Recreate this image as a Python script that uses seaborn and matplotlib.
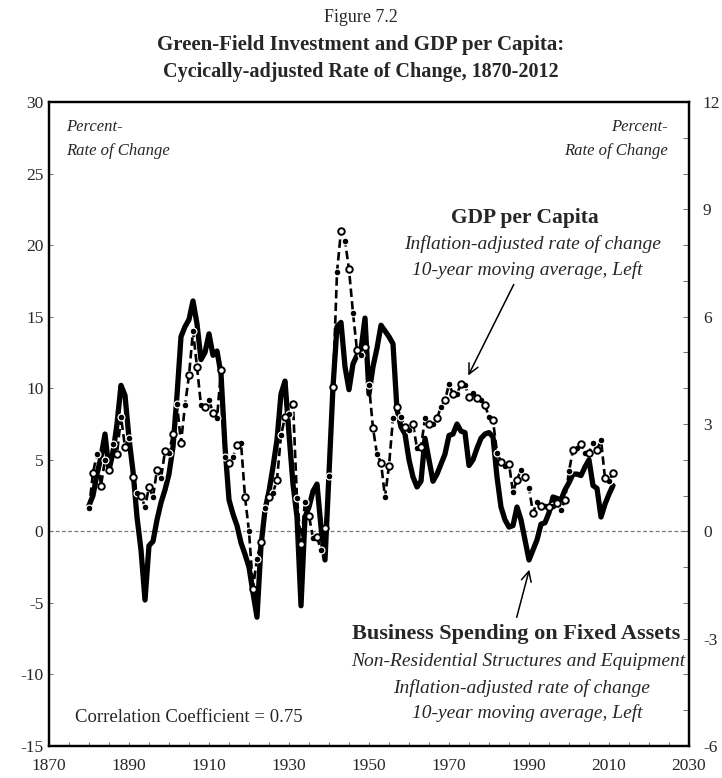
import numpy as np
import pandas as pd
import matplotlib
matplotlib.use("Agg")
import matplotlib.pyplot as plt
import seaborn as sns

# ---------------- data ----------------
years = list(range(1880, 2012))

business = [
    1.8, 2.5, 4.0, 5.2, 6.8, 4.3, 5.5, 7.5, 10.2, 9.5,            # 1880-1889
    6.5, 4.2, 1.0, -1.3, -4.8, -1.0, -0.7, 0.8, 2.0, 2.9,         # 1890-1899
    4.0, 5.9, 9.5, 13.6, 14.3, 14.8, 16.1, 14.5, 12.0, 12.5,      # 1900-1909
    13.8, 12.3, 12.6, 11.0, 5.9, 2.2, 1.2, 0.4, -0.8, -1.6,       # 1910-1919
    -2.5, -4.3, -6.0, -1.0, 1.5, 2.8, 4.5, 6.4, 9.6, 10.5,        # 1920-1929
    6.8, 3.3, 1.0, -5.2, 1.0, 1.7, 2.8, 3.3, 0.3, -2.0,           # 1930-1939
    4.0, 10.1, 14.3, 14.6, 11.5, 9.9, 11.7, 12.3, 12.7, 14.9,     # 1940-1949
    9.6, 11.5, 12.8, 14.4, 14.0, 13.6, 13.1, 8.5, 7.3, 6.8,       # 1950-1959
    5.0, 3.8, 3.1, 3.5, 6.5, 5.0, 3.5, 4.0, 4.7, 5.4,             # 1960-1969
    6.7, 6.8, 7.5, 7.0, 6.9, 4.6, 5.0, 5.8, 6.5, 6.8,             # 1970-1979
    6.9, 6.6, 3.8, 1.7, 0.8, 0.3, 0.4, 1.7, 0.8, -0.6,            # 1980-1989
    -2.0, -1.3, -0.6, 0.5, 0.6, 1.3, 2.4, 2.3, 2.2, 2.9,          # 1990-1999
    3.4, 4.0, 4.0, 3.9, 4.5, 5.0, 3.2, 3.0, 1.0, 1.9,             # 2000-2009
    2.6, 3.2,                                                      # 2010-2011
]

gdp = [
    1.6, 4.1, 5.4, 3.2, 5.0, 4.3, 6.1, 5.4, 8.0, 5.9,             # 1880-1889
    6.5, 3.8, 2.7, 2.5, 1.7, 3.1, 2.4, 4.3, 3.7, 5.6,             # 1890-1899
    5.5, 6.8, 8.9, 6.2, 8.8, 10.9, 14.0, 11.5, 8.8, 8.7,          # 1900-1909
    9.15, 8.3, 7.9, 11.25, 5.2, 4.8, 5.2, 6.0, 6.2, 2.4,          # 1910-1919
    0.0, -4.0, -1.9, -0.75, 1.6, 2.4, 2.7, 3.6, 6.7, 8.0,         # 1920-1929
    8.2, 8.9, 2.3, -0.86, 2.05, 1.1, -0.5, -0.4, -1.3, 0.2,       # 1930-1939
    3.9, 10.1, 18.1, 21.0, 20.3, 18.3, 15.25, 12.65, 12.3, 12.9,  # 1940-1949
    10.2, 7.2, 5.4, 4.8, 2.4, 4.6, 7.9, 8.7, 8.0, 7.3,            # 1950-1959
    7.1, 7.5, 5.8, 5.9, 7.9, 7.5, 7.5, 7.9, 8.7, 9.15,            # 1960-1969
    10.3, 9.6, 9.6, 10.3, 10.2, 9.4, 9.7, 9.3, 9.15, 8.8,         # 1970-1979
    8.0, 7.75, 5.5, 4.85, 4.6, 4.7, 2.75, 3.6, 4.3, 3.8,          # 1980-1989
    3.0, 1.3, 2.05, 1.75, 1.8, 1.7, 1.8, 2.0, 1.5, 2.2,           # 1990-1999
    4.2, 5.7, 5.8, 6.1, 5.5, 5.5, 6.2, 5.7, 6.4, 3.7,             # 2000-2009
    3.5, 4.1,                                                      # 2010-2011
]

x_ticks = [1870, 1890, 1910, 1930, 1950, 1970, 1990, 2010, 2030]
left_ticks = [-15, -10, -5, 0, 5, 10, 15, 20, 25, 30]
right_ticks = [-6, -3, 0, 3, 6, 9, 12]

df = pd.DataFrame({"Year": years, "Business": business, "GDP": gdp})

# ---------------- style ----------------
sns.set_style("ticks")
plt.rcParams['font.family'] = ['Liberation Serif', 'DejaVu Serif']

W, H = 722, 778
fig = plt.figure(figsize=(W / 100, H / 100), dpi=100)
ax = fig.add_axes([49 / W, 32 / H, 640 / W, 644 / H])


def fp(x, y):
    return (x / W, 1 - y / H)


# zero line
ax.axhline(0, color="#777777", lw=0.9, ls=(0, (3, 2)), zorder=1)

# business spending: thick solid line
sns.lineplot(data=df, x="Year", y="Business", ax=ax, color="black",
             lw=3.8, zorder=3, legend=False)

# GDP per capita: dashed line with dots
sns.lineplot(data=df, x="Year", y="GDP", ax=ax, color="black",
             lw=1.9, linestyle=(0, (3.2, 1.6)), zorder=4, legend=False)
sns.scatterplot(data=df.iloc[0::2], x="Year", y="GDP", ax=ax, marker="o",
                s=24, color="black", edgecolor="white", linewidth=0.9,
                zorder=5, legend=False)
sns.scatterplot(data=df.iloc[1::2], x="Year", y="GDP", ax=ax, marker="o",
                s=22, color="white", edgecolor="black", linewidth=1.4,
                zorder=5, legend=False)

ax.set_xlim(1870, 2030)
ax.set_ylim(-15, 30)
ax.set_xticks(x_ticks)
ax.set_xticklabels([str(v) for v in x_ticks])
ax.set_xticks(np.arange(1870, 2031, 5), minor=True)
ax.set_yticks(left_ticks)
ax.set_yticklabels([str(v) for v in left_ticks])
ax.set_xlabel("")
ax.set_ylabel("")
ax.tick_params(axis="x", which="major", direction="in", length=3, width=0.6,
               labelsize=12.5, pad=9, color="#555555")
ax.tick_params(axis="x", which="minor", direction="in", length=3, width=0.6,
               color="#555555")
ax.tick_params(axis="y", which="major", direction="in", length=3, width=0.6,
               labelsize=12.5, pad=4, color="#555555")

for s in ax.spines.values():
    s.set_visible(True)
    s.set_color("black")
    s.set_linewidth(1.6)

ax2 = ax.twinx()
ax2.set_ylim(-6, 12)
ax2.set_yticks(right_ticks)
ax2.set_yticklabels([str(v) for v in right_ticks])
ax2.set_yticks(np.arange(-6, 13, 1), minor=True)
ax2.tick_params(axis="y", which="major", direction="in", length=4, width=0.6,
                labelsize=12.5, pad=10, color="#555555")
ax2.tick_params(axis="y", which="minor", direction="in", length=4, width=0.6,
                color="#555555")
for s in ax2.spines.values():
    s.set_color("black")
    s.set_linewidth(1.6)

# ---------------- titles ----------------
fig.text(*fp(361, 18), "Figure 7.2", ha="center", va="center", fontsize=13)
fig.text(*fp(361, 45), "Green-Field Investment and GDP per Capita:",
         ha="center", va="center", fontsize=15, fontweight="bold")
fig.text(*fp(361, 72), "Cycically-adjusted Rate of Change, 1870-2012",
         ha="center", va="center", fontsize=14.5, fontweight="bold")

# ---------------- in-plot text ----------------
fig.text(*fp(66, 127), "Percent-", ha="left", va="center", fontsize=12,
         style="italic")
fig.text(*fp(66, 151), "Rate of Change", ha="left", va="center", fontsize=12,
         style="italic")
fig.text(*fp(668, 127), "Percent-", ha="right", va="center", fontsize=12,
         style="italic")
fig.text(*fp(668, 151), "Rate of Change", ha="right", va="center",
         fontsize=12, style="italic")

fig.text(*fp(525, 218), "GDP per Capita", ha="center", va="center",
         fontsize=15.5, fontweight="bold")
fig.text(*fp(533, 244), "Inflation-adjusted rate of change", ha="center",
         va="center", fontsize=14, style="italic")
fig.text(*fp(527, 270), "10-year moving average, Left", ha="center",
         va="center", fontsize=14, style="italic")

fig.text(*fp(516, 634), "Business Spending on Fixed Assets", ha="center",
         va="center", fontsize=16, fontweight="bold")
fig.text(*fp(518, 661), "Non-Residential Structures and Equipment",
         ha="center", va="center", fontsize=14, style="italic")
fig.text(*fp(522, 688), "Inflation-adjusted rate of change", ha="center",
         va="center", fontsize=14, style="italic")
fig.text(*fp(527, 713), "10-year moving average, Left", ha="center",
         va="center", fontsize=14, style="italic")

fig.text(*fp(75, 718), "Correlation Coefficient = 0.75", ha="left",
         va="center", fontsize=13.5)

# arrows
ax.annotate("", xy=fp(467, 378), xycoords="figure fraction",
            xytext=fp(515, 282), textcoords="figure fraction",
            arrowprops=dict(arrowstyle="->", color="black", lw=1.1,
                            mutation_scale=18))
ax.annotate("", xy=fp(530, 567), xycoords="figure fraction",
            xytext=fp(516, 620), textcoords="figure fraction",
            arrowprops=dict(arrowstyle="->", color="black", lw=1.1,
                            mutation_scale=18))

fig.savefig("out.png", dpi=100)
